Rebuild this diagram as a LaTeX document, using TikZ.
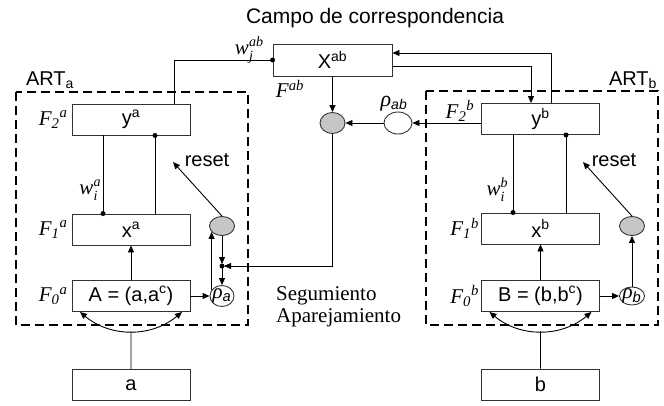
\documentclass[tikz,border=0pt]{standalone}
\usepackage{fontspec}
\setmainfont{Liberation Serif}
\setsansfont{Liberation Sans}
\usepackage{tikz}
\usetikzlibrary{arrows.meta,positioning,shapes.geometric,calc}
\newcommand\wlab[2]{w\rlap{\raisebox{-6pt}{\fontsize{14}{14}\selectfont #1}}\raisebox{8pt}{\fontsize{14}{14}\selectfont #2}}
\tikzset{
  bx/.style={draw=black!80,line width=0.9pt,minimum width=118pt,minimum height=31pt,inner sep=0pt,font=\sffamily\fontsize{20}{24}\selectfont},
  gr/.style={ellipse,draw=black!80,line width=0.9pt,fill=gray!45,inner sep=0pt},
  rh/.style={ellipse,draw=black!80,line width=0.9pt,fill=white,inner sep=0pt},
  ar/.style={-{Triangle[length=7pt,width=6pt]},line width=0.9pt},
  ar2/.style={{Triangle[length=7pt,width=6pt]}-{Triangle[length=7pt,width=6pt]},line width=0.9pt},
  ln/.style={line width=0.9pt},
  grp/.style={line width=2.5pt,dash pattern=on 9pt off 5pt},
  fl/.style={font=\rmfamily\itshape\fontsize{21}{24}\selectfont,inner sep=1pt},
  st/.style={font=\sffamily\fontsize{20}{24}\selectfont,inner sep=0pt},
  rl/.style={font=\fontsize{21}{22}\selectfont,inner sep=0pt}
}
\begin{document}
\begin{tikzpicture}[x=1pt,y=-1pt]
\useasboundingbox (0,0) rectangle (664,405);
\node[st,font=\sffamily\fontsize{21}{24}\selectfont] (tit) at (375,18) {Campo de correspondencia};
% ART a
\draw[grp] (16,92) rectangle (248,325);
\node[st] (arta) at (50,80) {ART\textsubscript{a}};
\node[bx] (ya) at (131,119.5) {y\textsuperscript{a}};
\node[bx] (xa) at (131,229.5) {x\textsuperscript{a}};
\node[bx] (Aa) at (131,296) {A = (a,a\textsuperscript{c})};
\node[bx] (ina) at (131,385) {a};
\node[gr,minimum width=25pt,minimum height=19pt] (ga) at (222,226) {};
\node[rh,minimum width=24pt,minimum height=21pt,label={[rl]center:{\itshape ρ}\textsubscript{\sffamily\itshape a}}] (ra) at (222,296) {};
\node[fl,left=3pt of ya] (f2a) {F\textsubscript{2}\textsuperscript{a}};
\node[fl,left=3pt of xa] (f1a) {F\textsubscript{1}\textsuperscript{a}};
\node[fl,left=3pt of Aa] (f0a) {F\textsubscript{0}\textsuperscript{a}};
\node[fl] (wia) at (90,190) {\wlab{i}{a}};
% ART b
\draw[grp] (426,91) rectangle (658,325);
\node[st] (artb) at (633,80) {ART\textsubscript{b}};
\node[bx] (yb) at (540.5,119) {y\textsuperscript{b}};
\node[bx] (xb) at (540.5,228.5) {x\textsuperscript{b}};
\node[bx] (Bb) at (540.5,296) {B = (b,b\textsuperscript{c})};
\node[bx] (inb) at (540.5,384.5) {b};
\node[gr,minimum width=25pt,minimum height=19pt] (gb) at (632,226) {};
\node[rh,minimum width=25pt,minimum height=18pt,label={[rl]center:{\itshape ρ}\textsubscript{\sffamily\itshape b}}] (rb) at (632,296) {};
\node[fl] (f2b) at (460,111) {F\textsubscript{2}\textsuperscript{b}};
\node[fl,left=1pt of xb] (f1b) {F\textsubscript{1}\textsuperscript{b}};
\node[fl,left=1pt of Bb] (f0b) {F\textsubscript{0}\textsuperscript{b}};
\node[fl] (wib) at (497,190) {\wlab{i}{b}};
% campo
\node[bx,minimum width=119pt,minimum height=32pt] (xab) at (332.5,60) {X\textsuperscript{ab}};
\node[fl] (fab) at (290,89) {F\textsuperscript{ab}};
\node[fl] (wab) at (249,50) {\wlab{j}{ab}};
\node[gr,minimum width=25pt,minimum height=21pt] (gab) at (332.5,123) {};
\node[rh,minimum width=28pt,minimum height=22pt] (rab) at (398,123) {};
\node[st] (rabl) at (394,104) {{\rmfamily\itshape\fontsize{22}{24}\selectfont ρ}\textsubscript{\itshape ab}};
\node[font=\rmfamily\fontsize{21}{22}\selectfont,align=left,anchor=west,inner sep=0pt] (seg) at (276,307) {Segumiento\\Aparejamiento};
\coordinate (jn) at (222,266);
\coordinate (rsa) at (173,162);
\coordinate (rsb) at (583,162);
\node[st] (reseta) at (207,160) {reset};
\node[st] (resetb) at (614,160) {reset};
% wires
\draw[ln] ([xshift=-16pt]ya.north east) |- (xab.west);
\fill (xab.west) circle (2.5pt);
\draw[ar] ([yshift=-6pt]xab.east) -| ([xshift=-9.5pt]yb.north);
\draw[ar] ([xshift=10.5pt]yb.north) |- ([yshift=7pt]xab.east);
\draw[ar] (xab.south) -- (gab.north);
\draw[ar] (yb.west |- rab.east) -- (rab.east);
\draw[ar] (rab.west) -- (gab.east);
\draw[ar,shorten >=2pt] (gab.south) |- (jn);
\draw[ar,shorten >=2pt] (ga.south) -- (jn);
\draw[ar] (jn) -- (ra.north);
\fill (jn) circle (2.5pt);
\draw[ar] (ra.150) -- (ra.150 |- ga.210);
\draw[ar] (Aa.east) -- (ra.west);
\draw[ar] (Aa.north) -- (xa.south);
\draw[ar] (ga.north) -- (rsa);
\draw[ln] ([xshift=-28pt]ya.south) -- ([xshift=-28pt]xa.north);
\fill ([xshift=-28pt]xa.north) circle (2.5pt);
\draw[ln] ([xshift=24pt]ya.south) -- ([xshift=24pt]xa.north);
\fill ([xshift=24pt]ya.south) circle (2.5pt);
\draw[ar2] ([xshift=-51pt]Aa.south) to[bend right=40] coordinate[pos=.5] (ja) ([xshift=51pt]Aa.south);
\draw[ln] (ina.north) -- (ja);
\draw[ar] (Bb.east) -- (rb.west);
\draw[ar] (Bb.north) -- (xb.south);
\draw[ar] (rb.north) -- (gb.south);
\draw[ar] (gb.north) -- (rsb);
\draw[ln] ([xshift=-27.5pt]yb.south) -- ([xshift=-27.5pt]xb.north);
\fill ([xshift=-27.5pt]xb.north) circle (2.5pt);
\draw[ln] ([xshift=25.5pt]yb.south) -- ([xshift=25.5pt]xb.north);
\fill ([xshift=25.5pt]yb.south) circle (2.5pt);
\draw[ar2] ([xshift=-51pt]Bb.south) to[bend right=40] coordinate[pos=.5] (jb) ([xshift=51pt]Bb.south);
\draw[ln] (inb.north) -- (jb);
\end{tikzpicture}
\end{document}
